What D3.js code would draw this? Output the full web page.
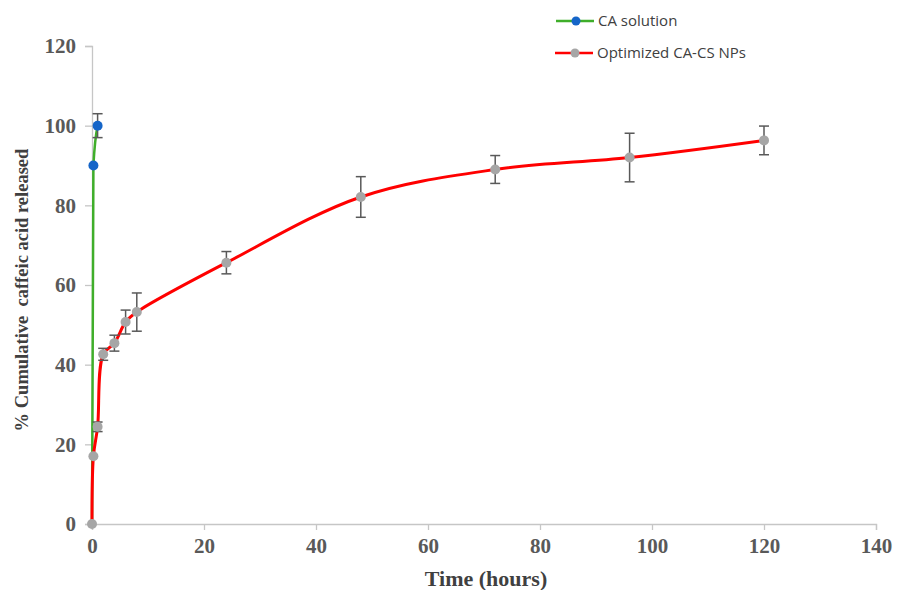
<!DOCTYPE html>
<html>
<head>
<meta charset="utf-8">
<script src="https://cdnjs.cloudflare.com/ajax/libs/d3/7.8.5/d3.min.js"></script>
<style>
  body { margin: 0; background: #fff; }
  svg text { font-family: "Liberation Serif", "Times New Roman", serif; }
</style>
</head>
<body>
<div id="chart"></div>
<script>
// release data
const caTime = [0, 0.25, 1];
const caRelease = [0, 90, 100];
const caErr = [0, 0, 3];

const npTime = [0, 0.25, 1, 2, 4, 6, 8, 24, 48, 72, 96, 120];
const npRelease = [0, 17, 24.4, 42.6, 45.4, 50.7, 53.2, 65.6, 82.1, 89, 92, 96.3];
const npErr = [0, 0, 1.2, 1.5, 2, 3, 4.8, 2.8, 5.1, 3.5, 6.1, 3.6];

const xTicks = [0, 20, 40, 60, 80, 100, 120, 140];
const yTicks = [0, 20, 40, 60, 80, 100, 120];

const seriesNames = ['CA solution', 'Optimized CA-CS NPs'];

const W = 897, H = 590;
const margin = { left: 92, right: 21, top: 46, bottom: 66 };

const svg = d3.select('#chart').append('svg')
  .attr('width', W).attr('height', H);

const x = d3.scaleLinear().domain([0, 140]).range([margin.left, W - margin.right]);
const y = d3.scaleLinear().domain([0, 120]).range([H - margin.bottom, margin.top]);

// axes
const xAxis = svg.append('g')
  .attr('transform', `translate(0,${y(0)})`)
  .call(d3.axisBottom(x).tickValues(xTicks).tickSize(6).tickPadding(8));
const yAxis = svg.append('g')
  .attr('transform', `translate(${x(0)},0)`)
  .call(d3.axisLeft(y).tickValues(yTicks).tickSize(7).tickPadding(9));

[xAxis, yAxis].forEach(g => {
  g.select('.domain').attr('stroke', '#c6c6c6').attr('stroke-width', 1.3);
  g.selectAll('.tick line').attr('stroke', '#c6c6c6').attr('stroke-width', 1.3);
  g.selectAll('.tick text')
    .attr('fill', '#595959')
    .style('font-family', '"Liberation Serif", serif')
    .style('font-weight', 'bold')
    .style('font-size', '21px');
});

// axis titles
svg.append('text')
  .attr('x', (x(0) + x(140)) / 2 + 2)
  .attr('y', 586)
  .attr('text-anchor', 'middle')
  .attr('fill', '#404040')
  .style('font-weight', 'bold')
  .style('font-size', '22px')
  .text('Time (hours)');

svg.append('text')
  .attr('transform', `translate(28,${290}) rotate(-90)`)
  .attr('text-anchor', 'middle')
  .attr('fill', '#404040')
  .style('font-weight', 'bold')
  .style('font-size', '18.5px')
  .style('white-space', 'pre')
  .text('% Cumulative  caffeic acid released');

const ca = caTime.map((t, i) => ({ t, v: caRelease[i], e: caErr[i] }));
const np = npTime.map((t, i) => ({ t, v: npRelease[i], e: npErr[i] }));

const caLine = d3.line()
  .x(d => x(d.t)).y(d => y(d.v))
  .curve(d3.curveMonotoneX);
const npLine = d3.line()
  .x(d => x(d.t)).y(d => y(d.v))
  .curve(d3.curveCatmullRom.alpha(0.5));

svg.append('path').datum(ca)
  .attr('fill', 'none').attr('stroke', '#3fae2a').attr('stroke-width', 2.5)
  .attr('d', caLine);

svg.append('path').datum(np)
  .attr('fill', 'none').attr('stroke', '#ff0000').attr('stroke-width', 3)
  .attr('d', npLine);

// error bars
function errorBars(data) {
  const g = svg.append('g').attr('stroke', '#595959').attr('stroke-width', 1.5);
  data.filter(d => d.e > 0).forEach(d => {
    g.append('line').attr('x1', x(d.t)).attr('x2', x(d.t))
      .attr('y1', y(d.v + d.e)).attr('y2', y(d.v - d.e));
    [d.v + d.e, d.v - d.e].forEach(v => {
      g.append('line').attr('x1', x(d.t) - 5).attr('x2', x(d.t) + 5)
        .attr('y1', y(v)).attr('y2', y(v));
    });
  });
}
errorBars(ca);
errorBars(np);

// markers
svg.append('g').selectAll('circle').data(np).enter().append('circle')
  .attr('cx', d => x(d.t)).attr('cy', d => y(d.v)).attr('r', 5)
  .attr('fill', '#a6a6a6');

svg.append('g').selectAll('circle').data(ca.filter(d => d.v > 0)).enter().append('circle')
  .attr('cx', d => x(d.t)).attr('cy', d => y(d.v)).attr('r', 5)
  .attr('fill', '#1565c8');

// legend
const legend = svg.append('g');
const legendItems = [
  { name: seriesNames[0], line: '#3fae2a', dot: '#1565c8', y: 21, x0: 556 },
  { name: seriesNames[1], line: '#ff0000', dot: '#a6a6a6', y: 53, x0: 555 }
];
legendItems.forEach(it => {
  legend.append('line').attr('x1', it.x0).attr('x2', it.x0 + 38)
    .attr('y1', it.y).attr('y2', it.y)
    .attr('stroke', it.line).attr('stroke-width', 2.5);
  legend.append('circle').attr('cx', it.x0 + 20).attr('cy', it.y).attr('r', 4.5)
    .attr('fill', it.dot);
  legend.append('text').attr('x', it.x0 + 42).attr('y', it.y + 5)
    .attr('fill', '#404040')
    .style('font-family', '"Open Sans", "Noto Sans", sans-serif')
    .style('font-size', '15px')
    .text(it.name);
});
</script>
</body>
</html>
